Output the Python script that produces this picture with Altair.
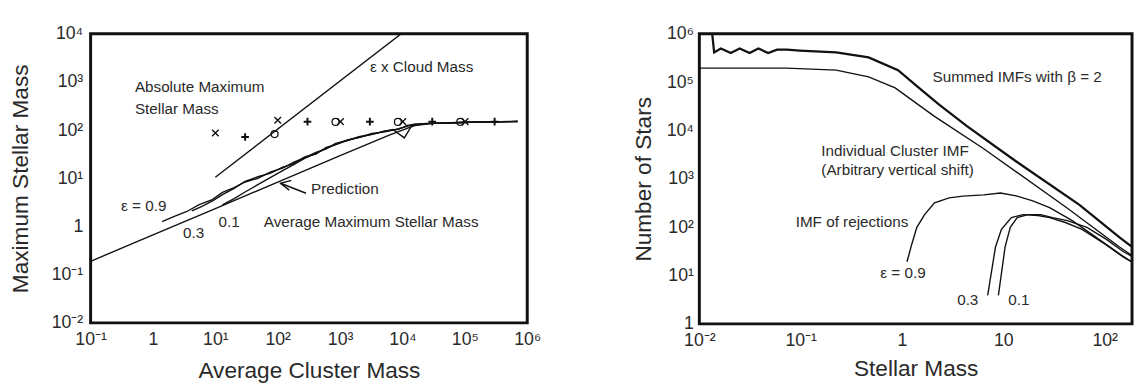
import json
import altair as alt
import pandas as pd

FONT = "Liberation Sans"
INK = "#111111"
TXT = "#2a2a2a"

# ---------------- Left panel: maximum stellar mass vs cluster mass ----------------
L_W, L_H = 444, 294
L_XDOM = [0.1, 1e6]
L_YDOM = [0.01, 1e4]
L_XTICKS = [0.1, 1, 10, 100, 1e3, 1e4, 1e5, 1e6]
L_XLABELS = ["10⁻¹", "1", "10¹", "10²", "10³", "10⁴", "10⁵", "10⁶"]
L_YTICKS = [0.01, 0.1, 1, 10, 100, 1e3, 1e4]
L_YLABELS = ["10⁻²", "10⁻¹", "1", "10¹", "10²", "10³", "10⁴"]

cloud_x = [10, 1.2e4]
cloud_y = [10.5, 1.26e4]

pred_x = [0.1, 1, 10, 100, 1000, 6000, 1e4, 1.6e4, 3e4, 1e5, 3e5, 7e5]
pred_y = [0.19, 0.67, 2.36, 8.35, 29.5, 78, 100, 125, 138, 146, 150, 151]

e09_x = [1.4, 2.2, 3.5, 5.5, 8.7, 13, 20, 30, 48, 77, 120, 177, 270, 409, 600, 846,
         1300, 2000, 3240, 5200, 8650, 1.2e4, 1.55e4, 2.4e4, 3.7e4, 6e4, 1.2e5, 2.5e5, 7e5]
e09_y = [1.26, 1.62, 2.05, 2.85, 3.55, 5.1, 6.4, 8.4, 10.0, 13.6, 16.2, 21.5, 26.5, 34.5,
         41, 53, 61, 73, 82, 96, 104, 126, 133, 136, 140, 141, 146, 148, 152]

e03_x = [4.2, 6, 9, 13, 20, 30, 48, 77, 120, 177, 270, 409, 600, 846, 1300, 2000,
         3240, 5200, 8650, 1.2e4, 1.55e4, 2.4e4, 3.7e4, 6e4, 1.2e5, 2.5e5, 7e5]
e03_y = [2.1, 2.6, 3.4, 4.6, 6.2, 8.6, 10.8, 12.8, 17, 20, 28, 32, 44, 50, 63, 70,
         85, 92, 107, 120, 132, 138, 140, 141, 146, 147, 152]

e01_x = [13, 20, 30, 48, 77, 120, 177, 270, 409, 600, 846, 1300, 2000, 3240, 5200,
         7000, 1.07e4, 1.4e4, 2e4, 3.7e4, 6e4, 1.2e5, 2.5e5, 7e5]
e01_y = [2.8, 3.8, 5.2, 7.4, 10.5, 14.5, 19, 26, 33, 42, 50, 61, 71, 82, 94,
         103, 69, 122, 135, 140, 143, 146, 149, 151]

arrow_x = [165, 111, 153]
arrow_y = [9.1, 7.9, 5.7]
arrow_tail_x = [111, 284]
arrow_tail_y = [7.9, 4.9]

cross_x = [10, 100, 1014, 1.01e4, 1.01e5]
cross_y = [87, 160, 150, 150, 150]
plus_x = [30, 300, 3000, 3e4, 3e5]
plus_y = [72, 150, 150, 150, 150]
circle_x = [89, 845, 8450, 84500]
circle_y = [83, 148, 148, 148]

L_TEXT = ["Absolute Maximum", "Stellar Mass", "ε x Cloud Mass", "Prediction",
          "Average Maximum Stellar Mass", "ε = 0.9", "0.3", "0.1"]
L_TEXT_X = [0.513, 0.513, 3010, 341, 59.7, 0.308, 3.04, 11.2]
L_TEXT_Y = [790, 268, 2020, 5.96, 1.26, 2.68, 0.72, 1.26]

# ---------------- Right panel: number of stars vs stellar mass ----------------
R_W, R_H = 440, 295
R_XDOM = [0.01, 186]
R_YDOM = [1, 1e6]
R_XTICKS = [0.01, 0.1, 1, 10, 100]
R_XLABELS = ["10⁻²", "10⁻¹", "1", "10", "10²"]
R_YTICKS = [1, 10, 100, 1e3, 1e4, 1e5, 1e6]
R_YLABELS = ["1", "10¹", "10²", "10³", "10⁴", "10⁵", "10⁶"]

sum_x = [0.0134, 0.0140, 0.0163, 0.0204, 0.0250, 0.0313, 0.0383, 0.0478, 0.0584,
         0.0730, 0.0978, 0.224, 0.468, 0.914, 1.43, 2.34, 4.37, 13.4, 56.3, 139, 183]
sum_y = [1e6, 4.1e5, 4.95e5, 4.0e5, 4.95e5, 4.0e5, 4.95e5, 4.0e5, 4.7e5,
         4.7e5, 4.5e5, 4.1e5, 3.25e5, 1.77e5, 8.0e4, 3.4e4, 1.23e4, 2280, 290, 62, 40]

ind_x = [0.01, 0.073, 0.224, 0.468, 0.855, 2.09, 6.4, 40.9, 140, 186]
ind_y = [1.95e5, 1.95e5, 1.77e5, 1.28e5, 7.6e4, 1.96e4, 4190, 265, 39, 26]

rej09_x = [1.12, 1.25, 1.40, 1.67, 2.09, 2.92, 4.0, 6.4, 9.35, 13.4, 19.5, 28.6,
           47.8, 74.8, 140, 186]
rej09_y = [19.3, 45, 99, 182, 319, 403, 440, 465, 509, 443, 351, 253, 137, 71, 28, 19]

rej03_x = [7.0, 8.36, 9.57, 12, 15.6, 21.9, 28.6, 40.9, 59.8, 100, 153, 186]
rej03_y = [3.9, 39, 90, 158, 182, 174, 158, 125, 90, 45, 24, 19]

rej01_x = [8.93, 10.4, 11.7, 13.7, 17.5, 23.4, 30.6, 42.8, 66.8, 104, 153, 186]
rej01_y = [3.9, 39, 99, 158, 182, 182, 158, 137, 99, 56, 31, 25]

R_TEXT = ["Summed IMFs with β = 2", "Individual Cluster IMF", "(Arbitrary vertical shift)",
          "IMF of rejections", "ε = 0.9", "0.3", "0.1"]
R_TEXT_X = [2.0, 0.16, 0.16, 0.0893, 0.61, 3.5, 11.2]
R_TEXT_Y = [1.28e5, 3810, 1500, 125, 11, 3.1, 3.1]


def long_df(series):
    rows = []
    for name, (xs, ys) in series.items():
        for i, (x, y) in enumerate(zip(xs, ys)):
            rows.append({"s": name, "i": i, "x": x, "y": y})
    return pd.DataFrame(rows)


def label_expr(ticks, labels):
    return "{}[indexof({}, datum.value)]".format(
        json.dumps(labels, ensure_ascii=False), json.dumps(ticks))


ONE = pd.DataFrame({"a": [0]})


def axis(values, labels, title, pad, tpad):
    return alt.Axis(values=values, labelExpr=label_expr(values, labels), title=title,
                    ticks=False, domain=False, grid=False, labelFlush=False,
                    labelOverlap=False, labelPadding=pad, titlePadding=tpad)


def panel(W, H, xdom, ydom, xticks, xlabels, yticks, ylabels,
          xtitle, ytitle, series, thick, texts, tx, ty, points, top_pad,
          ytp=20, ylp=8, xtp=10):
    xs = alt.Scale(type="log", domain=xdom)
    ys = alt.Scale(type="log", domain=ydom)
    xaxis = axis(xticks, xlabels, xtitle, 8, xtp)
    yaxis = axis(yticks, ylabels, ytitle, ylp, ytp)
    X = lambda f: alt.X(f, scale=xs, axis=xaxis)
    Y = lambda f: alt.Y(f, scale=ys, axis=yaxis)
    layers = []
    df = long_df(series)
    layers.append(alt.Chart(df).mark_line(clip=True, color=INK, strokeWidth=1.4).encode(
        x=X("x:Q"), y=Y("y:Q"), detail="s:N", order="i:Q"))
    if thick:
        layers.append(alt.Chart(long_df(thick)).mark_line(clip=True, color=INK, strokeWidth=2.3).encode(
            x=X("x:Q"), y=Y("y:Q"), detail="s:N", order="i:Q"))
    for (px, py, shape, size, sw) in points:
        layers.append(alt.Chart(pd.DataFrame({"x": px, "y": py})).mark_point(
            shape=shape, size=size, filled=False, stroke=INK, color=INK, strokeWidth=sw,
            opacity=1, clip=True).encode(x=X("x:Q"), y=Y("y:Q")))
    layers.append(alt.Chart(pd.DataFrame({"t": texts, "x": tx, "y": ty})).mark_text(
        align="left", baseline="middle", font=FONT, fontSize=15.5, color=TXT).encode(
        x=X("x:Q"), y=Y("y:Q"), text="t:N"))
    layers.append(alt.Chart(ONE).mark_rule(opacity=0, strokeOpacity=0).encode(
        x=alt.value(0), y=alt.value(-top_pad), y2=alt.value(0)))
    return alt.layer(*layers).properties(width=W, height=H)


XSHAPE = "M-1,-1L1,1M-1,1L1,-1"
PSHAPE = "M-1,0L1,0M0,-1L0,1"

left = panel(
    L_W, L_H, L_XDOM, L_YDOM, L_XTICKS, L_XLABELS, L_YTICKS, L_YLABELS,
    "Average Cluster Mass", "Maximum Stellar Mass",
    {"cloud": (cloud_x, cloud_y), "pred": (pred_x, pred_y), "e09": (e09_x, e09_y),
     "e03": (e03_x, e03_y), "e01": (e01_x, e01_y), "arrow": (arrow_x, arrow_y),
     "tail": (arrow_tail_x, arrow_tail_y)},
    None, L_TEXT, L_TEXT_X, L_TEXT_Y,
    [(cross_x, cross_y, XSHAPE, 45, 1.4), (plus_x, plus_y, PSHAPE, 60, 2.0),
     (circle_x, circle_y, "circle", 50, 1.3)],
    top_pad=21, ytp=19, ylp=8, xtp=12)

right = panel(
    R_W, R_H, R_XDOM, R_YDOM, R_XTICKS, R_XLABELS, R_YTICKS, R_YLABELS,
    "Stellar Mass", "Number of Stars",
    {"ind": (ind_x, ind_y), "rej09": (rej09_x, rej09_y), "rej03": (rej03_x, rej03_y),
     "rej01": (rej01_x, rej01_y)},
    {"sum": (sum_x, sum_y)}, R_TEXT, R_TEXT_X, R_TEXT_Y, [],
    top_pad=13, ytp=11, ylp=6, xtp=8)

chart = alt.hconcat(left, right, spacing=89).properties(
    padding={"left": 0, "top": 0, "right": 0, "bottom": 0}).configure_view(
    stroke=INK, strokeWidth=3).configure_axis(
    labelFont=FONT, titleFont=FONT, labelFontSize=18, titleFontSize=23,
    labelColor=TXT, titleColor=TXT, titleFontWeight="normal")

chart.save("out.html", embed_options={"renderer": "svg", "actions": False})
